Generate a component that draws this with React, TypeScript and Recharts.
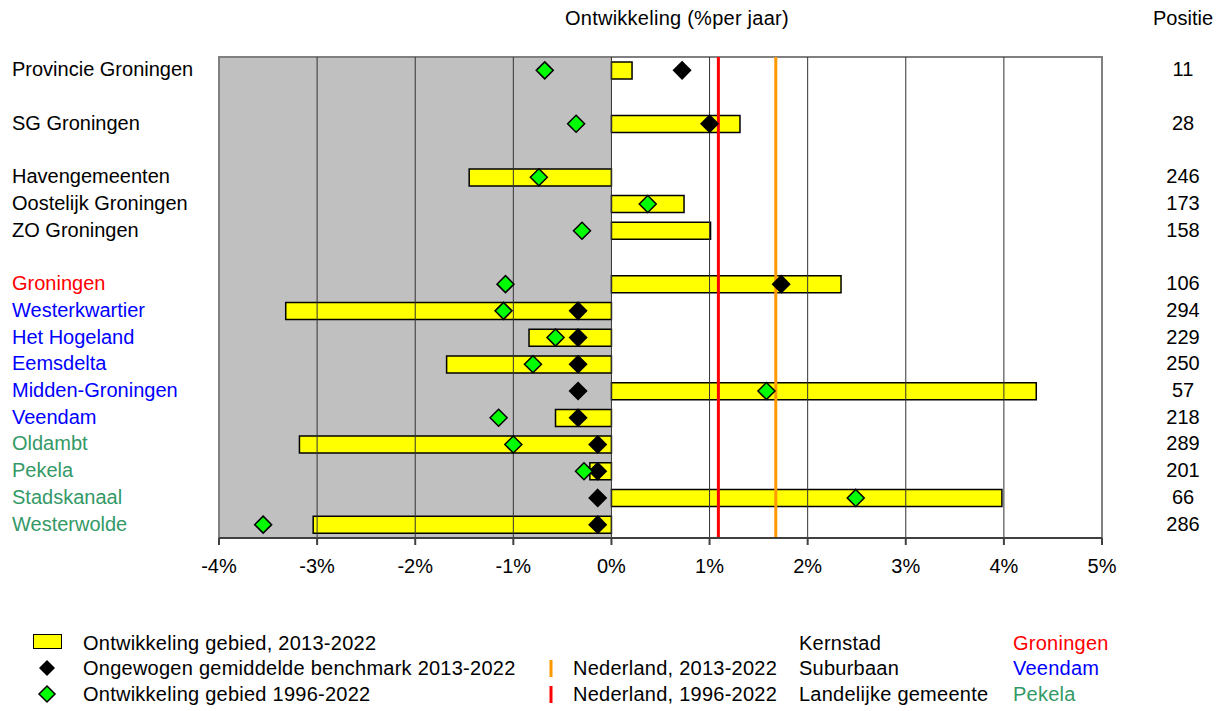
import {
  ComposedChart,
  Bar,
  Line,
  XAxis,
  YAxis,
  ReferenceLine,
  ReferenceArea,
} from 'recharts';

const FONT = '"Liberation Sans", Arial, sans-serif';

// rows of the chart; empty strings are the blank spacer rows
const labels = [
  'Provincie Groningen', '', 'SG Groningen', '', 'Havengemeenten', 'Oostelijk Groningen',
  'ZO Groningen', '', 'Groningen', 'Westerkwartier', 'Het Hogeland', 'Eemsdelta',
  'Midden-Groningen', 'Veendam', 'Oldambt', 'Pekela', 'Stadskanaal', 'Westerwolde',
];
const labelColors = [
  '#000', '#000', '#000', '#000', '#000', '#000', '#000', '#000', '#ff0000',
  '#0000ff', '#0000ff', '#0000ff', '#0000ff', '#0000ff',
  '#339966', '#339966', '#339966', '#339966',
];
const positie = ['11', '', '28', '', '246', '173', '158', '', '106', '294', '229', '250', '57', '218', '289', '201', '66', '286'];

// Ontwikkeling gebied 2013-2022 (% per jaar)
const ontw2013 = [0.21, null, 1.31, null, -1.45, 0.74, 1.01, null, 2.34, -3.32, -0.84, -1.68, 4.33, -0.57, -3.18, -0.22, 3.98, -3.04];
// Ongewogen gemiddelde benchmark 2013-2022
const benchmark = [0.72, null, 1.0, null, null, null, null, null, 1.73, -0.34, -0.34, -0.34, -0.34, -0.34, -0.14, -0.14, -0.14, -0.14];
// Ontwikkeling gebied 1996-2022
const ontw1996 = [-0.68, null, -0.36, null, -0.74, 0.37, -0.3, null, -1.08, -1.1, -0.57, -0.8, 1.58, -1.15, -1.0, -0.28, 2.49, -3.55];

const nl2013 = 1.675;
const nl1996 = 1.09;
const xTicks = [-4, -3, -2, -1, 0, 1, 2, 3, 4, 5];

const data = labels.map((name, i) => ({
  key: `row${i}`,
  name,
  ontw2013: ontw2013[i],
  benchmark: benchmark[i],
  ontw1996: ontw1996[i],
}));

function diamond(fill: string, stroke: string) {
  return (props: any) => {
    const { cx, cy, value, index } = props;
    if (value == null || cx == null || cy == null) return <g key={`d-${index}`} />;
    const r = 8.5;
    return (
      <path
        key={`d-${index}`}
        d={`M${cx},${cy - r} L${cx + r},${cy} L${cx},${cy + r} L${cx - r},${cy} Z`}
        fill={fill}
        stroke={stroke}
        strokeWidth={1.5}
      />
    );
  };
}

function RowTick(props: any) {
  const { y, index } = props;
  return (
    <g>
      <text x={12} y={y - 1} dy="0.35em" textAnchor="start" fontSize={20} fontFamily={FONT} fill={labelColors[index]}>
        {labels[index]}
      </text>
      <text x={1183} y={y - 1} dy="0.35em" textAnchor="middle" fontSize={20} fontFamily={FONT} fill="#000">
        {positie[index]}
      </text>
    </g>
  );
}

const txt: React.CSSProperties = {
  position: 'absolute',
  fontFamily: FONT,
  fontSize: 20,
  lineHeight: '20px',
  whiteSpace: 'nowrap',
  color: '#000',
  letterSpacing: 0.25,
};

export default function App() {
  return (
    <div style={{ position: 'absolute', left: 0, top: 0, width: 1220, height: 711, background: '#fff' }}>
      <ComposedChart
        width={1220}
        height={711}
        layout="vertical"
        data={data}
        margin={{ top: 57, right: 118, bottom: 143, left: 0 }}
      >
        <XAxis
          type="number"
          domain={[-4, 5]}
          ticks={xTicks}
          interval={0}
          tickFormatter={(v) => `${v}%`}
          tick={{ fontSize: 20, fill: '#000', fontFamily: FONT }}
          axisLine={{ stroke: '#404040', strokeWidth: 2 }}
          tickLine={{ stroke: '#404040', strokeWidth: 2 }}
          tickSize={7}
          tickMargin={14}
          height={30}
        />
        <YAxis
          type="category"
          dataKey="key"
          width={219}
          axisLine={false}
          tickLine={false}
          interval={0}
          tick={<RowTick />}
        />
        <ReferenceArea x1={-4} x2={0} fill="#c0c0c0" fillOpacity={1} stroke="none" />
        {xTicks.slice(1, -1).map((t) => (
          <ReferenceLine key={t} x={t} stroke="#333" strokeWidth={1} />
        ))}
        <ReferenceArea x1={-4} x2={5} fill="none" stroke="#808080" strokeWidth={2} />
        <Bar
          dataKey="ontw2013"
          fill="#ffff00"
          stroke="#000"
          strokeWidth={1.5}
          barSize={17}
          isAnimationActive={false}
        />
        <ReferenceLine x={nl1996} stroke="#ff0000" strokeWidth={3} />
        <ReferenceLine x={nl2013} stroke="#ff9900" strokeWidth={3} />
        <Line
          dataKey="benchmark"
          stroke="none"
          dot={diamond('#000', '#000')}
          activeDot={false}
          isAnimationActive={false}
        />
        <Line
          dataKey="ontw1996"
          stroke="none"
          dot={diamond('#00ff00', '#000')}
          activeDot={false}
          isAnimationActive={false}
        />
      </ComposedChart>

      <div style={{ ...txt, left: 565, top: 8 }}>Ontwikkeling (%per jaar)</div>
      <div style={{ ...txt, left: 1153, top: 8, letterSpacing: 0 }}>Positie</div>

      {/* legend */}
      <div style={{ position: 'absolute', left: 33, top: 634, width: 27, height: 13, background: '#ffff00', border: '1.5px solid #000' }} />
      <svg style={{ position: 'absolute', left: 0, top: 0 }} width={1220} height={711} pointerEvents="none">
        <path d="M47,660 L55,668 L47,676 L39,668 Z" fill="#000" />
        <path d="M47,686 L55,694 L47,702 L39,694 Z" fill="#00ff00" stroke="#000" strokeWidth={1.5} />
        <line x1={551} y1={660} x2={551} y2={677} stroke="#ff9900" strokeWidth={3} />
        <line x1={551} y1={686} x2={551} y2={703} stroke="#ff0000" strokeWidth={3} />
      </svg>
      <div style={{ ...txt, left: 83, top: 633 }}>Ontwikkeling gebied, 2013-2022</div>
      <div style={{ ...txt, left: 83, top: 658 }}>Ongewogen gemiddelde benchmark 2013-2022</div>
      <div style={{ ...txt, left: 83, top: 684 }}>Ontwikkeling gebied 1996-2022</div>
      <div style={{ ...txt, left: 573, top: 658 }}>Nederland, 2013-2022</div>
      <div style={{ ...txt, left: 573, top: 684 }}>Nederland, 1996-2022</div>
      <div style={{ ...txt, left: 799, top: 633 }}>Kernstad</div>
      <div style={{ ...txt, left: 799, top: 658 }}>Suburbaan</div>
      <div style={{ ...txt, left: 799, top: 684 }}>Landelijke gemeente</div>
      <div style={{ ...txt, left: 1013, top: 633, color: '#ff0000' }}>Groningen</div>
      <div style={{ ...txt, left: 1013, top: 658, color: '#0000ff' }}>Veendam</div>
      <div style={{ ...txt, left: 1013, top: 684, color: '#339966' }}>Pekela</div>
    </div>
  );
}
